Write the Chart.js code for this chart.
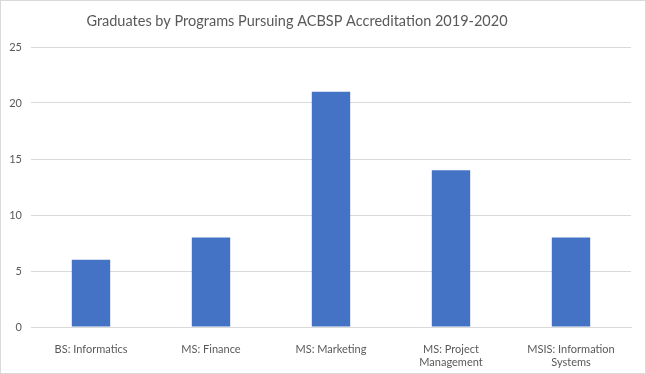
<!DOCTYPE html>
<html>
<head>
<meta charset="utf-8">
<script src="https://cdn.jsdelivr.net/npm/chart.js@4"></script>
<style>
    body { margin: 0; background: #fff; }
    #box { width: 646px; height: 374px; border: 1px solid #d9d9d9; box-sizing: border-box; }
</style>
</head>
<body>
<div id="box"><canvas id="chart1" width="644" height="372"></canvas></div>
<script>
    const titleText = 'Graduates by Programs Pursuing ACBSP Accreditation 2019-2020'
    const programs = ['BS: Informatics', 'MS: Finance', 'MS: Marketing', ['MS: Project', 'Management'], ['MSIS: Information', 'Systems']]
    const graduates = [6, 8, 21, 14, 8]
    const yTicks = [0, 5, 10, 15, 20, 25]

    Chart.defaults.font.family = 'Lato, "Open Sans", sans-serif'
    Chart.defaults.color = '#595959'

    // Excel puts the title a bit left of centre, so draw it by hand
    const titlePlugin = {
        id: 'excelTitle',
        afterDraw(chart) {
            const ctx = chart.ctx
            ctx.save()
            ctx.font = '14.5px Lato, "Open Sans", sans-serif'
            ctx.fillStyle = '#595959'
            ctx.textAlign = 'center'
            ctx.textBaseline = 'middle'
            ctx.fillText(titleText, 296, 20)
            ctx.restore()
        }
    }

    const data = {
        labels: programs,
        datasets: [{
            data: graduates,
            label: 'Graduates',
            backgroundColor: '#4472C4',
            barPercentage: 0.32,
            categoryPercentage: 1
        }]
    }

    const options = {
        responsive: false,
        animation: false,
        layout: {
            padding: { top: 46, right: 14, left: 0, bottom: 0 }
        },
        plugins: {
            legend: { display: false },
            title: { display: false },
            tooltip: { enabled: false }
        },
        scales: {
            x: {
                grid: { display: false },
                border: { display: true, color: '#d9d9d9' },
                ticks: { font: { size: 11, lineHeight: 1.2 }, color: '#595959', padding: 8, maxRotation: 0 },
                afterFit(scale) { scale.height = 46 }
            },
            y: {
                min: 0,
                max: 25,
                afterBuildTicks(scale) { scale.ticks = yTicks.map(v => ({ value: v })) },
                grid: { color: '#d9d9d9', drawTicks: false },
                border: { display: false },
                ticks: { font: { size: 11 }, color: '#595959', padding: 9 },
                afterFit(scale) { scale.width = 30 }
            }
        }
    }

    new Chart('chart1', { type: 'bar', data, options, plugins: [titlePlugin] })
</script>
</body>
</html>
